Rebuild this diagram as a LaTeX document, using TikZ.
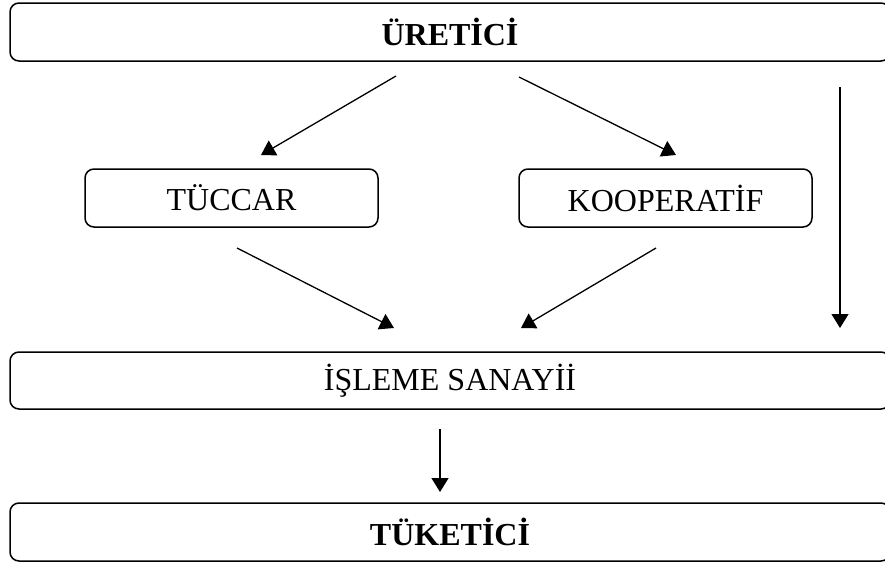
\documentclass[tikz,border=0pt]{standalone}
\usepackage{fontspec}
\setmainfont{Liberation Serif}
\usepackage{tikz}
\usetikzlibrary{arrows.meta, positioning}

\begin{document}
\begin{tikzpicture}[x=1pt, y=-1pt,
    widebox/.style={draw=black, line width=1.5pt, rectangle, rounded corners=9pt, minimum width=880pt, minimum height=58pt, inner sep=0pt, font=\fontsize{32}{36}\selectfont},
    smallbox/.style={draw=black, line width=1.5pt, rectangle, rounded corners=9pt, minimum width=293pt, minimum height=58pt, inner sep=0pt, font=\fontsize{32}{36}\selectfont},
    flow/.style={draw=black, line width=1.3pt, -{Triangle[width=17pt, length=14pt]}}
]
    \useasboundingbox (0,0) rectangle (885,565);
    \clip (0,0) rectangle (885,565);

    % Boxes
    \node[widebox] (uretici) at (450,32) {\textbf{ÜRETİCİ}};
    \node[smallbox] (tuccar) at (231.5,198) {TÜCCAR};
    \node[smallbox] (koop) at (665.5,198) {KOOPERATİF};
    \node[widebox, minimum height=57pt] (isleme) at (450,380.5) {İŞLEME SANAYİİ};
    \node[widebox] (tuketici) at (450,532) {\textbf{TÜKETİCİ}};

    % Arrow ends
    \coordinate (u_l) at (396,76);
    \coordinate (t_top) at (261,155);
    \coordinate (u_r) at (519,77);
    \coordinate (k_top) at (676,155);
    \coordinate (t_bot) at (237,248);
    \coordinate (i_l) at (394,328);
    \coordinate (k_bot) at (656,248);
    \coordinate (i_r) at (521,328);
    \coordinate (u_v) at (840,87);
    \coordinate (i_v) at (840,328);
    \coordinate (i_bot) at (440,429);
    \coordinate (tk_top) at (440,492);

    % Connections
    \draw[flow] (u_l) -- (t_top);
    \draw[flow] (u_r) -- (k_top);
    \draw[flow] (t_bot) -- (i_l);
    \draw[flow] (k_bot) -- (i_r);
    \draw[flow] (u_v) -- (i_v);
    \draw[flow] (i_bot) -- (tk_top);
\end{tikzpicture}
\end{document}
